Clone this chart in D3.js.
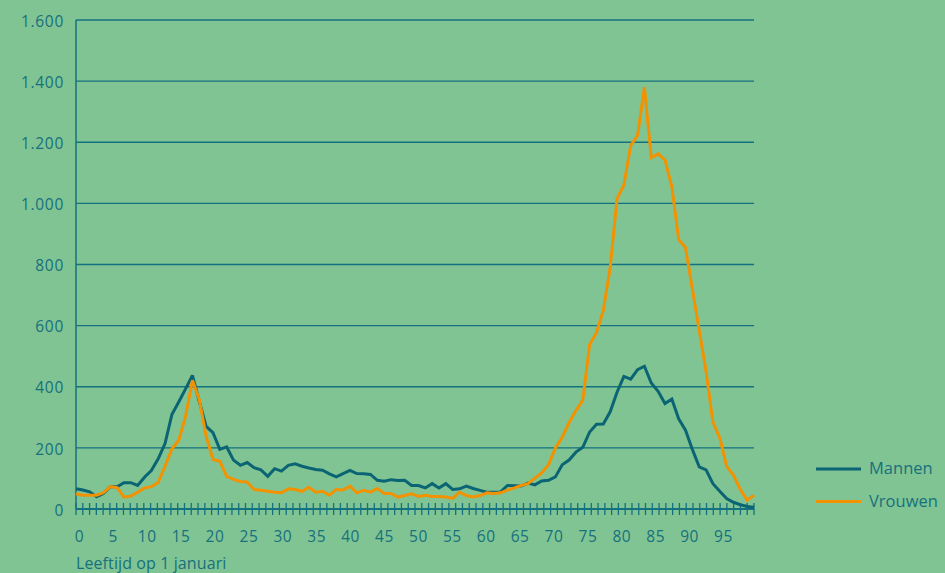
<!DOCTYPE html>
<html>
<head>
<meta charset="utf-8">
<script src="https://cdn.jsdelivr.net/npm/d3@7"></script>
<style>
  html, body { margin: 0; padding: 0; background: #80c494; }
  svg { display: block; }
  text { font-family: "Open Sans", "DejaVu Sans", sans-serif; fill: #17707c; }
</style>
</head>
<body>
<svg id="chart" width="945" height="573"></svg>
<script>
// ---- data ----
const ages = d3.range(0, 100);
const mannen = [66, 62, 56, 40, 51, 73, 73, 86, 86, 77,
  104, 126, 164, 214, 309, 350, 393, 437, 352, 270,
  250, 195, 203, 160, 143, 152, 135, 128, 107, 132,
  124, 143, 148, 140, 134, 129, 127, 115, 105, 116,
  126, 116, 115, 113, 94, 91, 96, 93, 94, 77,
  77, 69, 83, 69, 83, 64, 66, 75, 67, 61,
  55, 55, 56, 77, 76, 75, 85, 79, 92, 94,
  105, 145, 160, 186, 202, 252, 277, 278, 318, 382,
  434, 425, 456, 467, 412, 385, 345, 360, 295, 258,
  195, 138, 128, 83, 58, 34, 22, 14, 8, 6];
const vrouwen = [50, 45, 45, 45, 53, 73, 70, 39, 42, 55,
  69, 73, 87, 140, 196, 225, 303, 421, 358, 238,
  162, 156, 107, 97, 90, 88, 64, 61, 58, 55,
  53, 66, 64, 58, 71, 55, 58, 45, 64, 62,
  75, 53, 61, 55, 67, 51, 51, 39, 44, 50,
  41, 45, 41, 41, 39, 35, 55, 44, 39, 44,
  53, 51, 53, 62, 69, 77, 83, 101, 118, 145,
  200, 235, 283, 322, 356, 538, 577, 650, 790, 1015,
  1060, 1190, 1222, 1380, 1150, 1162, 1142, 1055, 882, 855,
  720, 585, 450, 284, 233, 140, 110, 64, 29, 45];
const yTicks = [0, 200, 400, 600, 800, 1000, 1200, 1400, 1600];
const yTickLabels = ["0", "200", "400", "600", "800", "1.000", "1.200", "1.400", "1.600"];
const xTickLabels = [0, 5, 10, 15, 20, 25, 30, 35, 40, 45, 50, 55, 60, 65, 70, 75, 80, 85, 90, 95];
const seriesNames = ["Mannen", "Vrouwen"];
const xTitle = "Leeftijd op 1 januari";

(function () {
// ---- layout ----
const mLeft = 76, mRight = 754, mTop = 20, mBottom = 509;
const axisColor = "#14717f";
const colors = { Mannen: "#0b6473", Vrouwen: "#f39200" };

const svg = d3.select("#chart");

const y = d3.scaleLinear().domain([0, 1600]).range([mBottom, mTop]);
const xLine = d3.scalePoint().domain(ages).range([mLeft, mRight]);
const xBand = d3.scaleBand().domain(ages).range([mLeft, mRight]).paddingInner(0).paddingOuter(0);

// gridlines
svg.append("g").selectAll("line")
  .data(yTicks.filter(d => d > 0))
  .join("line")
  .attr("x1", mLeft).attr("x2", mRight)
  .attr("y1", d => y(d)).attr("y2", d => y(d))
  .attr("stroke", axisColor).attr("stroke-width", 1.3);

// y axis line
svg.append("line")
  .attr("x1", mLeft).attr("x2", mLeft)
  .attr("y1", mTop).attr("y2", mBottom)
  .attr("stroke", axisColor).attr("stroke-width", 1.5);

// y labels
svg.append("g").selectAll("text")
  .data(yTicks)
  .join("text")
  .attr("x", mLeft - 12)
  .attr("y", d => y(d) + 2.5)
  .attr("text-anchor", "end")
  .attr("dominant-baseline", "middle")
  .attr("font-size", 15.5)
  .attr("letter-spacing", 0.7)
  .text((d, i) => yTickLabels[i]);

// x axis ticks at band edges
const tickPos = ages.map(a => xBand(a)).concat([mRight]);
svg.append("g").selectAll("line")
  .data(tickPos)
  .join("line")
  .attr("x1", d => d).attr("x2", d => d)
  .attr("y1", mBottom - 6).attr("y2", mBottom + 6)
  .attr("stroke", axisColor).attr("stroke-width", 1.3);

// x axis baseline
svg.append("line")
  .attr("x1", mLeft).attr("x2", mRight)
  .attr("y1", mBottom).attr("y2", mBottom)
  .attr("stroke", axisColor).attr("stroke-width", 2);

// x labels
svg.append("g").selectAll("text")
  .data(xTickLabels)
  .join("text")
  .attr("x", d => xBand(d) + xBand.bandwidth() / 2)
  .attr("y", 542)
  .attr("text-anchor", "middle")
  .attr("font-size", 15.5)
  .attr("letter-spacing", 0.5)
  .text(d => d);

// x title
svg.append("text")
  .attr("x", mLeft)
  .attr("y", 569)
  .attr("font-size", 16)
  .attr("letter-spacing", 0.1)
  .text(xTitle);

// lines
const line = d3.line().x((d, i) => xLine(ages[i])).y(d => y(d));
const seriesData = { Mannen: mannen, Vrouwen: vrouwen };
seriesNames.forEach(name => {
  svg.append("path")
    .datum(seriesData[name])
    .attr("d", line)
    .attr("fill", "none")
    .attr("stroke", colors[name])
    .attr("stroke-width", 3)
    .attr("stroke-linejoin", "miter")
    .attr("stroke-miterlimit", 2);
});

// legend
const legend = svg.append("g");
seriesNames.forEach((name, i) => {
  const ly = 469 + i * 32.5;
  legend.append("line")
    .attr("x1", 816).attr("x2", 861)
    .attr("y1", ly).attr("y2", ly)
    .attr("stroke", colors[name]).attr("stroke-width", 3);
  legend.append("text")
    .attr("x", 869)
    .attr("y", ly + 1)
    .attr("dominant-baseline", "middle")
    .attr("font-size", 16.5)
    .text(name);
});
})();
</script>
</body>
</html>
